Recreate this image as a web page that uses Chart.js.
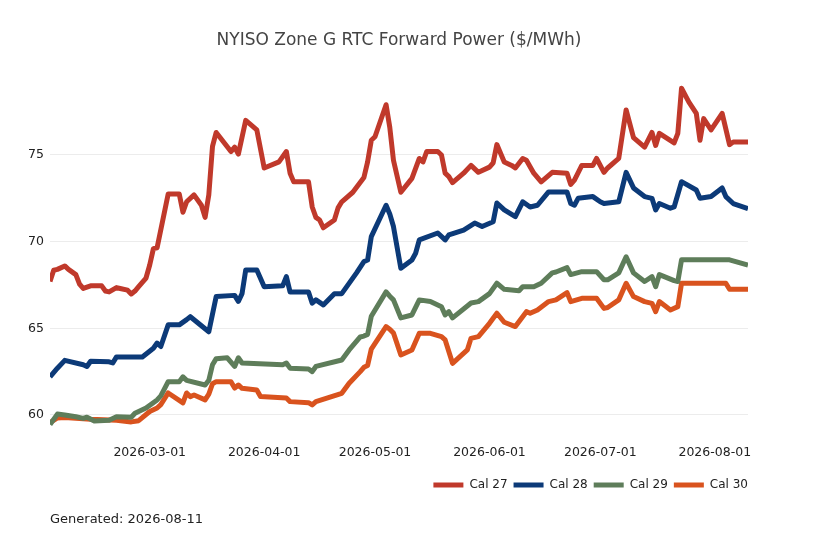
<!DOCTYPE html>
<html>
<head>
<meta charset="utf-8">
<script src="https://cdn.jsdelivr.net/npm/chart.js@4.4.1/dist/chart.umd.min.js"></script>
<style>
  html, body { margin: 0; padding: 0; background: #fff; }
  #wrap { width: 818px; height: 545px; }
</style>
</head>
<body>
<div id="wrap"><canvas id="myChart"></canvas></div>
<script>
// values
var seriesNames = ["Cal 27", "Cal 28", "Cal 29", "Cal 30"];
var seriesColors = ["#c0392b", "#0c3a78", "#5e7d5a", "#d9531e"];

var cal27Dates = ["2026-02-02","2026-02-03","2026-02-04","2026-02-06","2026-02-07","2026-02-09","2026-02-10","2026-02-11","2026-02-13","2026-02-16","2026-02-17","2026-02-18","2026-02-20","2026-02-21","2026-02-23","2026-02-24","2026-02-25","2026-02-26","2026-02-28","2026-03-01","2026-03-02","2026-03-03","2026-03-06","2026-03-09","2026-03-10","2026-03-11","2026-03-13","2026-03-15","2026-03-16","2026-03-17","2026-03-18","2026-03-19","2026-03-23","2026-03-24","2026-03-25","2026-03-27","2026-03-30","2026-04-01","2026-04-05","2026-04-07","2026-04-08","2026-04-09","2026-04-13","2026-04-14","2026-04-15","2026-04-16","2026-04-17","2026-04-20","2026-04-21","2026-04-22","2026-04-25","2026-04-28","2026-04-29","2026-04-30","2026-05-01","2026-05-04","2026-05-05","2026-05-06","2026-05-08","2026-05-11","2026-05-13","2026-05-14","2026-05-15","2026-05-18","2026-05-19","2026-05-20","2026-05-21","2026-05-22","2026-05-25","2026-05-27","2026-05-29","2026-06-01","2026-06-02","2026-06-03","2026-06-05","2026-06-07","2026-06-08","2026-06-10","2026-06-11","2026-06-13","2026-06-15","2026-06-18","2026-06-22","2026-06-23","2026-06-24","2026-06-26","2026-06-29","2026-06-30","2026-07-02","2026-07-03","2026-07-06","2026-07-08","2026-07-10","2026-07-13","2026-07-15","2026-07-16","2026-07-17","2026-07-21","2026-07-22","2026-07-23","2026-07-25","2026-07-27","2026-07-28","2026-07-29","2026-07-31","2026-08-03","2026-08-05","2026-08-06","2026-08-10"];
var cal27Values = [67.7,68.35,68.4,68.6,68.4,68.1,67.55,67.3,67.45,67.45,67.15,67.1,67.35,67.3,67.2,66.98,67.15,67.4,67.9,68.65,69.6,69.65,72.75,72.75,71.7,72.3,72.7,72.1,71.4,72.7,75.5,76.3,75.2,75.45,75.05,77.0,76.45,74.25,74.6,75.2,73.95,73.45,73.45,72.0,71.4,71.25,70.8,71.25,71.95,72.3,72.85,73.7,74.6,75.85,76.05,77.9,76.6,74.7,72.85,73.65,74.8,74.6,75.2,75.2,75.0,73.95,73.75,73.4,73.95,74.4,74.0,74.3,74.55,75.6,74.6,74.4,74.25,74.8,74.7,73.95,73.45,74.0,73.95,73.3,73.55,74.4,74.4,74.8,74.0,74.25,74.8,77.6,76.0,75.45,76.3,75.55,76.25,75.7,76.25,78.85,78.05,77.4,75.85,77.1,76.45,77.4,75.6,75.75,75.75];

var cal28Dates = ["2026-02-02","2026-02-04","2026-02-06","2026-02-11","2026-02-12","2026-02-13","2026-02-18","2026-02-19","2026-02-20","2026-02-27","2026-03-02","2026-03-03","2026-03-04","2026-03-06","2026-03-09","2026-03-11","2026-03-12","2026-03-17","2026-03-19","2026-03-24","2026-03-25","2026-03-26","2026-03-27","2026-03-30","2026-04-01","2026-04-06","2026-04-07","2026-04-08","2026-04-13","2026-04-14","2026-04-15","2026-04-17","2026-04-20","2026-04-22","2026-04-26","2026-04-28","2026-04-29","2026-04-30","2026-05-04","2026-05-05","2026-05-06","2026-05-08","2026-05-11","2026-05-12","2026-05-13","2026-05-18","2026-05-20","2026-05-21","2026-05-25","2026-05-28","2026-05-30","2026-06-02","2026-06-03","2026-06-05","2026-06-08","2026-06-10","2026-06-12","2026-06-14","2026-06-17","2026-06-22","2026-06-23","2026-06-24","2026-06-25","2026-06-29","2026-07-01","2026-07-02","2026-07-06","2026-07-08","2026-07-10","2026-07-13","2026-07-15","2026-07-16","2026-07-17","2026-07-20","2026-07-21","2026-07-23","2026-07-27","2026-07-28","2026-07-31","2026-08-03","2026-08-04","2026-08-06","2026-08-10"];
var cal28Values = [62.2,62.7,63.15,62.9,62.8,63.1,63.07,63.0,63.35,63.35,63.85,64.15,63.95,65.2,65.2,65.5,65.67,64.8,66.83,66.9,66.55,67.0,68.37,68.37,67.4,67.45,67.98,67.1,67.1,66.45,66.64,66.35,67.0,67.0,68.2,68.85,68.94,70.29,72.1,71.6,70.87,68.46,68.94,69.33,70.1,70.5,70.1,70.39,70.67,71.07,70.87,71.15,72.23,71.83,71.44,72.3,72.0,72.1,72.87,72.87,72.2,72.1,72.5,72.6,72.3,72.2,72.3,74.0,73.1,72.6,72.5,71.83,72.2,71.93,72.0,73.46,72.98,72.5,72.6,73.1,72.6,72.2,71.9];

var cal29Dates = ["2026-02-02","2026-02-04","2026-02-06","2026-02-09","2026-02-11","2026-02-12","2026-02-14","2026-02-18","2026-02-20","2026-02-24","2026-02-25","2026-02-28","2026-03-03","2026-03-04","2026-03-06","2026-03-09","2026-03-10","2026-03-11","2026-03-16","2026-03-17","2026-03-18","2026-03-19","2026-03-22","2026-03-24","2026-03-25","2026-03-26","2026-04-06","2026-04-07","2026-04-08","2026-04-13","2026-04-14","2026-04-15","2026-04-22","2026-04-24","2026-04-27","2026-04-28","2026-04-29","2026-04-30","2026-05-04","2026-05-05","2026-05-06","2026-05-08","2026-05-11","2026-05-13","2026-05-16","2026-05-19","2026-05-20","2026-05-21","2026-05-22","2026-05-27","2026-05-29","2026-06-01","2026-06-03","2026-06-05","2026-06-09","2026-06-10","2026-06-13","2026-06-15","2026-06-18","2026-06-19","2026-06-22","2026-06-23","2026-06-26","2026-06-30","2026-07-02","2026-07-03","2026-07-06","2026-07-08","2026-07-10","2026-07-13","2026-07-15","2026-07-16","2026-07-17","2026-07-21","2026-07-22","2026-07-23","2026-08-05","2026-08-10"];
var cal29Values = [59.45,60.05,60.0,59.9,59.8,59.87,59.65,59.7,59.9,59.87,60.1,60.4,60.87,61.1,61.92,61.92,62.2,62.0,61.73,62.0,62.9,63.25,63.3,62.8,63.3,63.0,62.9,63.0,62.7,62.65,62.5,62.8,63.17,63.75,64.5,64.55,64.65,65.7,67.1,66.85,66.64,65.6,65.77,66.64,66.55,66.25,65.77,65.96,65.6,66.46,66.54,67.0,67.6,67.25,67.17,67.4,67.4,67.6,68.2,68.25,68.5,68.1,68.27,68.27,67.8,67.8,68.2,69.13,68.2,67.7,67.98,67.4,68.1,67.75,67.7,68.95,68.95,68.65];

var cal30Dates = ["2026-02-02","2026-02-04","2026-02-06","2026-02-13","2026-02-20","2026-02-24","2026-02-26","2026-03-01","2026-03-03","2026-03-04","2026-03-06","2026-03-10","2026-03-11","2026-03-12","2026-03-13","2026-03-16","2026-03-17","2026-03-18","2026-03-19","2026-03-23","2026-03-24","2026-03-25","2026-03-26","2026-03-30","2026-03-31","2026-04-07","2026-04-08","2026-04-13","2026-04-14","2026-04-15","2026-04-22","2026-04-24","2026-04-27","2026-04-28","2026-04-29","2026-04-30","2026-05-04","2026-05-05","2026-05-06","2026-05-08","2026-05-11","2026-05-13","2026-05-16","2026-05-19","2026-05-20","2026-05-22","2026-05-26","2026-05-27","2026-05-29","2026-06-01","2026-06-03","2026-06-05","2026-06-08","2026-06-11","2026-06-12","2026-06-14","2026-06-17","2026-06-19","2026-06-22","2026-06-23","2026-06-26","2026-06-30","2026-07-02","2026-07-03","2026-07-06","2026-07-08","2026-07-10","2026-07-13","2026-07-15","2026-07-16","2026-07-17","2026-07-20","2026-07-22","2026-07-23","2026-08-04","2026-08-05","2026-08-10"];
var cal30Values = [59.55,59.83,59.85,59.75,59.7,59.6,59.67,60.2,60.4,60.6,61.27,60.7,61.27,61.06,61.15,60.87,61.2,61.8,61.92,61.92,61.55,61.73,61.54,61.44,61.06,60.98,60.77,60.71,60.58,60.77,61.25,61.83,62.5,62.75,62.85,63.8,65.1,64.95,64.73,63.46,63.75,64.71,64.71,64.52,64.33,62.98,63.75,64.42,64.52,65.29,65.87,65.35,65.1,65.96,65.87,66.06,66.54,66.64,67.06,66.54,66.73,66.73,66.15,66.2,66.64,67.6,66.83,66.54,66.44,65.96,66.54,66.06,66.25,67.6,67.6,67.25,67.25];

var xTickLabels = ["2026-03-01","2026-04-01","2026-05-01","2026-06-01","2026-07-01","2026-08-01"];
var yTickValues = [60, 65, 70, 75];
var firstDate = "2026-02-02";
var lastDate = "2026-08-10";

function toDay(s) {
  return Date.UTC(+s.slice(0, 4), +s.slice(5, 7) - 1, +s.slice(8, 10)) / 86400000;
}

function makePoints(dates, values) {
  return dates.map((d, i) => ({ x: toDay(d), y: values[i] }));
}

var allDates = [cal27Dates, cal28Dates, cal29Dates, cal30Dates];
var allValues = [cal27Values, cal28Values, cal29Values, cal30Values];

Chart.defaults.font.family = "'DejaVu Sans', sans-serif";
Chart.defaults.color = "#222";

// the legend sits a bit right of the plot edge in the reference
const legendShift = {
  id: "legendShift",
  afterLayout(chart) {
    chart.legend.left += 6;
    chart.legend.right += 6;
  },
};

const ctx = document.getElementById("myChart").getContext("2d");
const myChart = new Chart(ctx, {
  type: "line",
  data: {
    datasets: seriesNames.map((name, i) => ({
      label: name,
      data: makePoints(allDates[i], allValues[i]),
      borderColor: seriesColors[i],
      backgroundColor: seriesColors[i],
      borderWidth: 5,
      borderJoinStyle: "round",
      pointRadius: 0,
      tension: 0,
      fill: false,
    })),
  },
  options: {
    responsive: true,
    maintainAspectRatio: false,
    animation: false,
    layout: { padding: { left: 0, right: 70, top: 0, bottom: 0 } },
    scales: {
      x: {
        type: "linear",
        min: toDay(firstDate),
        max: toDay(lastDate),
        grid: { display: false, drawTicks: false },
        border: { display: false },
        ticks: {
          font: { size: 12.5 },
          color: "#222",
          padding: 13.2,
          maxRotation: 0,
          autoSkip: false,
          callback: function (value) {
            var lbl = xTickLabels.find((s) => toDay(s) === value);
            return lbl || "";
          },
        },
        afterBuildTicks: function (scale) {
          scale.ticks = xTickLabels.map((s) => ({ value: toDay(s) }));
        },
        afterFit: function (scale) {
          scale.height = 40.7;
        },
      },
      y: {
        min: 59,
        max: 79.5,
        grid: { color: "#ececec", lineWidth: 1, drawTicks: false },
        border: { display: false },
        ticks: { font: { size: 12.5 }, color: "#222", padding: 6 },
        afterBuildTicks: function (scale) {
          scale.ticks = yTickValues.map((v) => ({ value: v }));
        },
        afterFit: function (scale) {
          scale.width = 50;
        },
      },
    },
    plugins: {
      title: {
        display: true,
        text: "NYISO Zone G RTC Forward Power ($/MWh)",
        fullSize: false,
        color: "#444",
        font: { size: 17, weight: "normal" },
        padding: { top: 30, bottom: 26.6 },
      },
      subtitle: {
        display: true,
        text: "Generated: 2026-08-11",
        position: "bottom",
        align: "start",
        fullSize: false,
        color: "#222",
        font: { size: 13, weight: "normal" },
        padding: { top: 11.2, bottom: 17.2 },
      },
      legend: {
        position: "bottom",
        align: "end",
        labels: {
          boxWidth: 30,
          boxHeight: 5,
          padding: 6,
          color: "#222",
          font: { size: 12 },
          generateLabels: function (chart) {
            var items = Chart.defaults.plugins.legend.labels.generateLabels(chart);
            items.forEach((it) => {
              it.lineWidth = 0;
              it.strokeStyle = "rgba(0,0,0,0)";
            });
            return items;
          },
        },
      },
      tooltip: { enabled: false },
    },
  },
  plugins: [legendShift],
});
</script>
</body>
</html>
